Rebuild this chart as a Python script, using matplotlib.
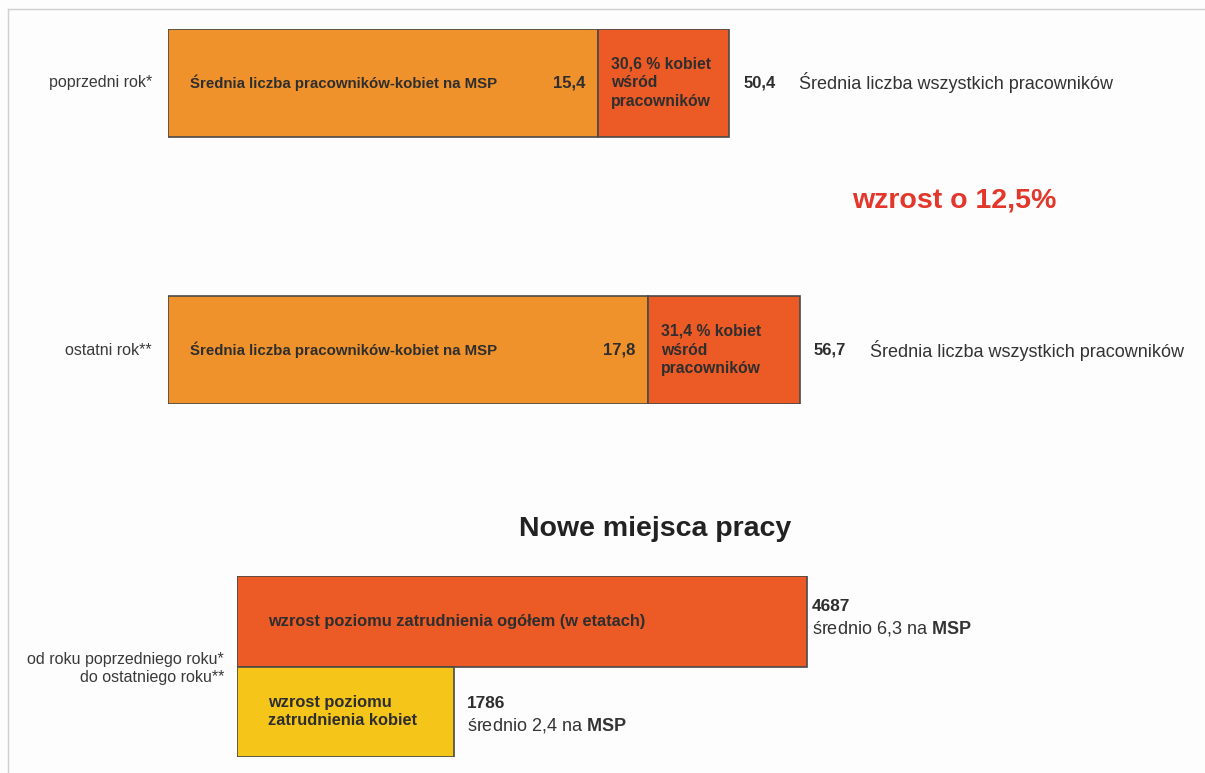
import matplotlib
matplotlib.use("Agg")
import matplotlib.pyplot as plt
from matplotlib.lines import Line2D

plt.rcParams['font.family'] = ['Liberation Sans', 'DejaVu Sans']
plt.rcParams['mathtext.fontset'] = 'custom'
plt.rcParams['mathtext.rm'] = 'Liberation Sans'
plt.rcParams['mathtext.bf'] = 'Liberation Sans:bold'

# data - average employees per SME
years = ["poprzedni rok*", "ostatni rok**"]
women_avg = [15.4, 17.8]
total_avg = [50.4, 56.7]
women_pct = ["30,6", "31,4"]
red_part = [11.8, 13.6]          # width of the red block as drawn in the original
growth_label = "wzrost o 12,5%"

# data - new jobs
jobs_labels = ["wzrost poziomu zatrudnienia ogółem (w etatach)",
               "wzrost poziomu\nzatrudnienia kobiet"]
jobs_values = [4687, 1786]
jobs_avg = ["6,3", "2,4"]
jobs_period = "od roku poprzedniego roku*\ndo ostatniego roku**"

W, H = 1205, 773
ORANGE = "#F0922B"
RED = "#EC5A26"
YELLOW = "#F5C51A"
EDGE = "#4a4a4a"
TXT = "#2e2e2e"

fig = plt.figure(figsize=(W / 100, H / 100), dpi=100)
fig.patch.set_facecolor("#fdfdfd")

# light frame lines (top and left)
fig.add_artist(Line2D([8 / W, 1], [1 - 9 / H, 1 - 9 / H], color="#cfcfcf", lw=1))
fig.add_artist(Line2D([8 / W, 8 / W], [0, 1 - 9 / H], color="#cfcfcf", lw=1))


def px_axes(left, top, right, bottom):
    return fig.add_axes([left / W, 1 - bottom / H, (right - left) / W, (bottom - top) / H])


# ---- top block ----
ax = px_axes(168, 29, 1205, 404)
ax.set_xlim(0, 1037 / 11.14)
ax.set_ylim(1.2022, -0.2022)
ax.axis("off")

orange_part = [t - r for t, r in zip(total_avg, red_part)]
ypos = list(range(len(years)))
ax.barh(ypos, orange_part, height=0.4045, color=ORANGE, edgecolor=EDGE, lw=1.2)
ax.barh(ypos, red_part, left=orange_part, height=0.4045, color=RED, edgecolor=EDGE, lw=1.2)

for i, y in enumerate(ypos):
    ax.annotate(years[i], (0, y), xytext=(-16, 0), textcoords="offset pixels",
                ha="right", va="center", fontsize=11.5, color="#3a3a3a")
    ax.annotate("Średnia liczba pracowników-kobiet na MSP", (0, y), xytext=(22, 0),
                textcoords="offset pixels", ha="left", va="center",
                fontsize=10.8, fontweight="bold", color=TXT)
    ax.annotate(f"{women_avg[i]:.1f}".replace(".", ","), (orange_part[i], y),
                xytext=(-13, 0), textcoords="offset pixels", ha="right", va="center",
                fontsize=12, fontweight="bold", color=TXT)
    ax.annotate(f"{women_pct[i]} % kobiet\nwśród\npracowników", (orange_part[i], y),
                xytext=(13, 0), textcoords="offset pixels", ha="left", va="center",
                fontsize=11.3, fontweight="bold", color=TXT, linespacing=1.3)
    ax.annotate(f"{total_avg[i]:.1f}".replace(".", ","), (total_avg[i], y),
                xytext=(14, 0), textcoords="offset pixels", ha="left", va="center",
                fontsize=12, fontweight="bold", color=TXT)
    ax.annotate("Średnia liczba wszystkich pracowników", (total_avg[i], y),
                xytext=(70, 0), textcoords="offset pixels", ha="left", va="center",
                fontsize=13, color="#333333")

fig.text(852 / W, 1 - 200 / H, growth_label, ha="left", va="center",
         fontsize=20.5, fontweight="bold", color="#E2372A")
fig.text(655 / W, 1 - 529 / H, "Nowe miejsca pracy", ha="center", va="center",
         fontsize=20.5, fontweight="bold", color="#222222")

# ---- new jobs block ----
bx = px_axes(237, 576, 1205, 757)
bx.set_xlim(0, 968 / 0.1216)
bx.set_ylim(1.5, -0.5)
bx.axis("off")

jpos = list(range(len(jobs_values)))
bx.barh(jpos, jobs_values, height=1.0, color=[RED, YELLOW], edgecolor=EDGE, lw=1.2)
bx.annotate(jobs_period, (0, 0.5), xytext=(-13, -2), textcoords="offset pixels",
            ha="right", va="center", fontsize=11.5, color="#3a3a3a",
            multialignment="right", linespacing=1.25)

note_dx = [5, 13]
note_dy = [4, -3]   # pixels, up is positive
for i, y in enumerate(jpos):
    bx.annotate(jobs_labels[i], (0, y), xytext=(31, 0), textcoords="offset pixels",
                ha="left", va="center", fontsize=11.8, fontweight="bold", color=TXT,
                linespacing=1.25)
    bx.annotate(str(jobs_values[i]), (jobs_values[i], y),
                xytext=(note_dx[i], note_dy[i] + 11), textcoords="offset pixels",
                ha="left", va="center", fontsize=12.4, fontweight="bold", color=TXT)
    bx.annotate(f"średnio {jobs_avg[i]} na " + r"$\mathbf{MSP}$", (jobs_values[i], y),
                xytext=(note_dx[i], note_dy[i] - 11), textcoords="offset pixels",
                ha="left", va="center", fontsize=13, color="#333333")

fig.savefig("out.png", dpi=100, facecolor=fig.get_facecolor())
